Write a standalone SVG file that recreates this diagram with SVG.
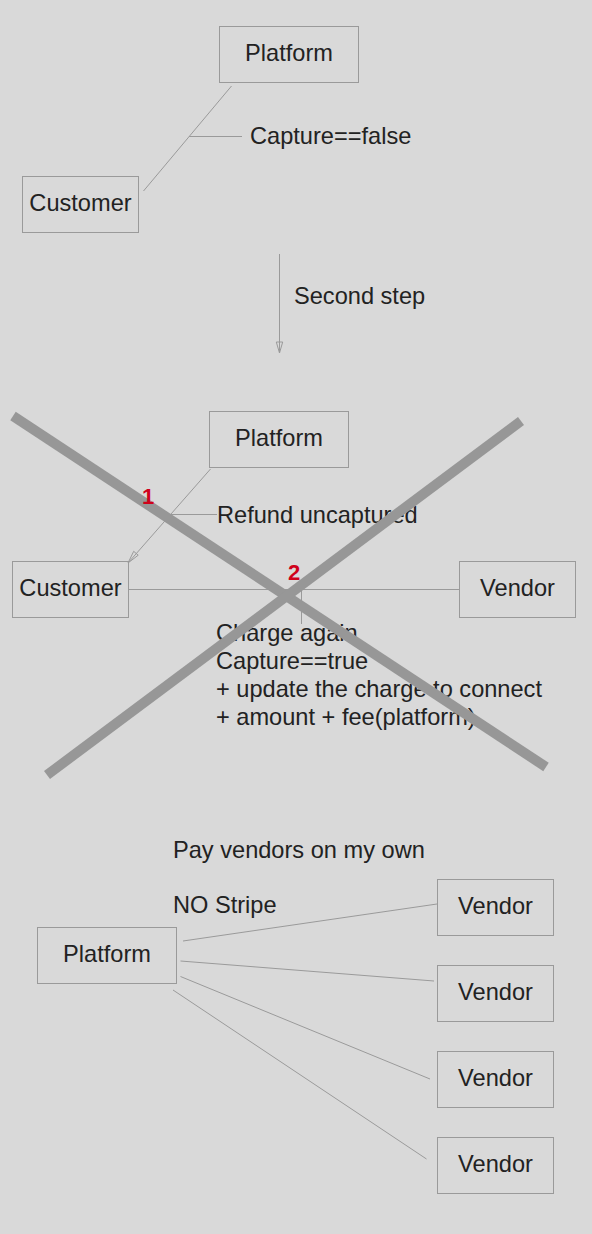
<svg xmlns="http://www.w3.org/2000/svg" width="592" height="1234" viewBox="0 0 592 1234">
<style>
.box{fill:none;stroke:#9a9a9a;stroke-width:1}
.lbl{font-family:"Liberation Sans",Arial,sans-serif;font-size:23.6px;fill:#222222}
.c{text-anchor:middle}
.ln{stroke:#9a9a9a;stroke-width:1;fill:none}
.ah{fill:none;stroke:#9a9a9a;stroke-width:1}
.num{font-family:"Liberation Sans",Arial,sans-serif;font-size:22px;font-weight:bold;fill:#d0021b;text-anchor:middle}
.cross{stroke:#979797;stroke-width:10;fill:none}
</style>
<rect width="592" height="1234" fill="#d9d9d9"/>
<g id="connectors">
<line class="ln" x1="143.5" y1="191" x2="231.5" y2="86"/>
<line class="ln" x1="189" y1="136.5" x2="242" y2="136.5"/>
<line class="ln" x1="279.5" y1="254" x2="279.5" y2="352"/>
<polygon class="ah" points="276.3,342 282.7,342 279.5,353"/>
<line class="ln" x1="210.5" y1="469" x2="128" y2="563"/>
<polygon class="ah" points="138.2,555.2 133.7,551.3 128,563"/>
<line class="ln" x1="170.5" y1="514.5" x2="217" y2="514.5"/>
<line class="ln" x1="128.5" y1="589.5" x2="459" y2="589.5"/>
<line class="ln" x1="301.5" y1="589.5" x2="301.5" y2="624"/>
<line class="ln" x1="183" y1="941" x2="437" y2="904"/>
<line class="ln" x1="180.5" y1="961" x2="434" y2="981"/>
<line class="ln" x1="180.5" y1="976.5" x2="430" y2="1079"/>
<line class="ln" x1="173" y1="990" x2="426.5" y2="1159"/>
</g>
<g id="platform1"><rect class="box" x="219.5" y="26.5" width="139" height="56"/><text class="lbl c" x="289" y="61">Platform</text></g>
<g id="customer1"><rect class="box" x="22.5" y="176.5" width="116" height="56"/><text class="lbl c" x="80.5" y="211">Customer</text></g>
<g id="label-capture-false"><text class="lbl" x="250" y="144">Capture==false</text></g>
<g id="label-second-step"><text class="lbl" x="294" y="304">Second step</text></g>
<g id="platform2"><rect class="box" x="209.5" y="411.5" width="139" height="56"/><text class="lbl c" x="279" y="446">Platform</text></g>
<g id="customer2"><rect class="box" x="12.5" y="561.5" width="116" height="56"/><text class="lbl c" x="70.5" y="596">Customer</text></g>
<g id="vendor0"><rect class="box" x="459.5" y="561.5" width="116" height="56"/><text class="lbl c" x="517.5" y="596">Vendor</text></g>
<g id="label-refund"><text class="lbl" x="217" y="523">Refund uncaptured</text></g>
<g id="label-charge"><text class="lbl" x="216" y="641"><tspan x="216">Charge again</tspan><tspan x="216" dy="28">Capture==true</tspan><tspan x="216" dy="28">+ update the charge to connect</tspan><tspan x="216" dy="28">+ amount + fee(platform)</tspan></text></g>
<g id="cross">
<line class="cross" x1="13" y1="416" x2="546" y2="767"/>
<line class="cross" x1="521" y1="421" x2="47" y2="775"/>
</g>
<g id="numbers"><text class="num" x="148" y="504">1</text><text class="num" x="294" y="580">2</text></g>
<g id="label-pay"><text class="lbl" x="173" y="858">Pay vendors on my own</text></g>
<g id="label-nostripe"><text class="lbl" x="173" y="913">NO Stripe</text></g>
<g id="platform3"><rect class="box" x="37.5" y="927.5" width="139" height="56"/><text class="lbl c" x="107" y="962">Platform</text></g>
<g id="vendor1"><rect class="box" x="437.5" y="879.5" width="116" height="56"/><text class="lbl c" x="495.5" y="914">Vendor</text></g>
<g id="vendor2"><rect class="box" x="437.5" y="965.5" width="116" height="56"/><text class="lbl c" x="495.5" y="1000">Vendor</text></g>
<g id="vendor3"><rect class="box" x="437.5" y="1051.5" width="116" height="56"/><text class="lbl c" x="495.5" y="1086">Vendor</text></g>
<g id="vendor4"><rect class="box" x="437.5" y="1137.5" width="116" height="56"/><text class="lbl c" x="495.5" y="1172">Vendor</text></g>
</svg>
